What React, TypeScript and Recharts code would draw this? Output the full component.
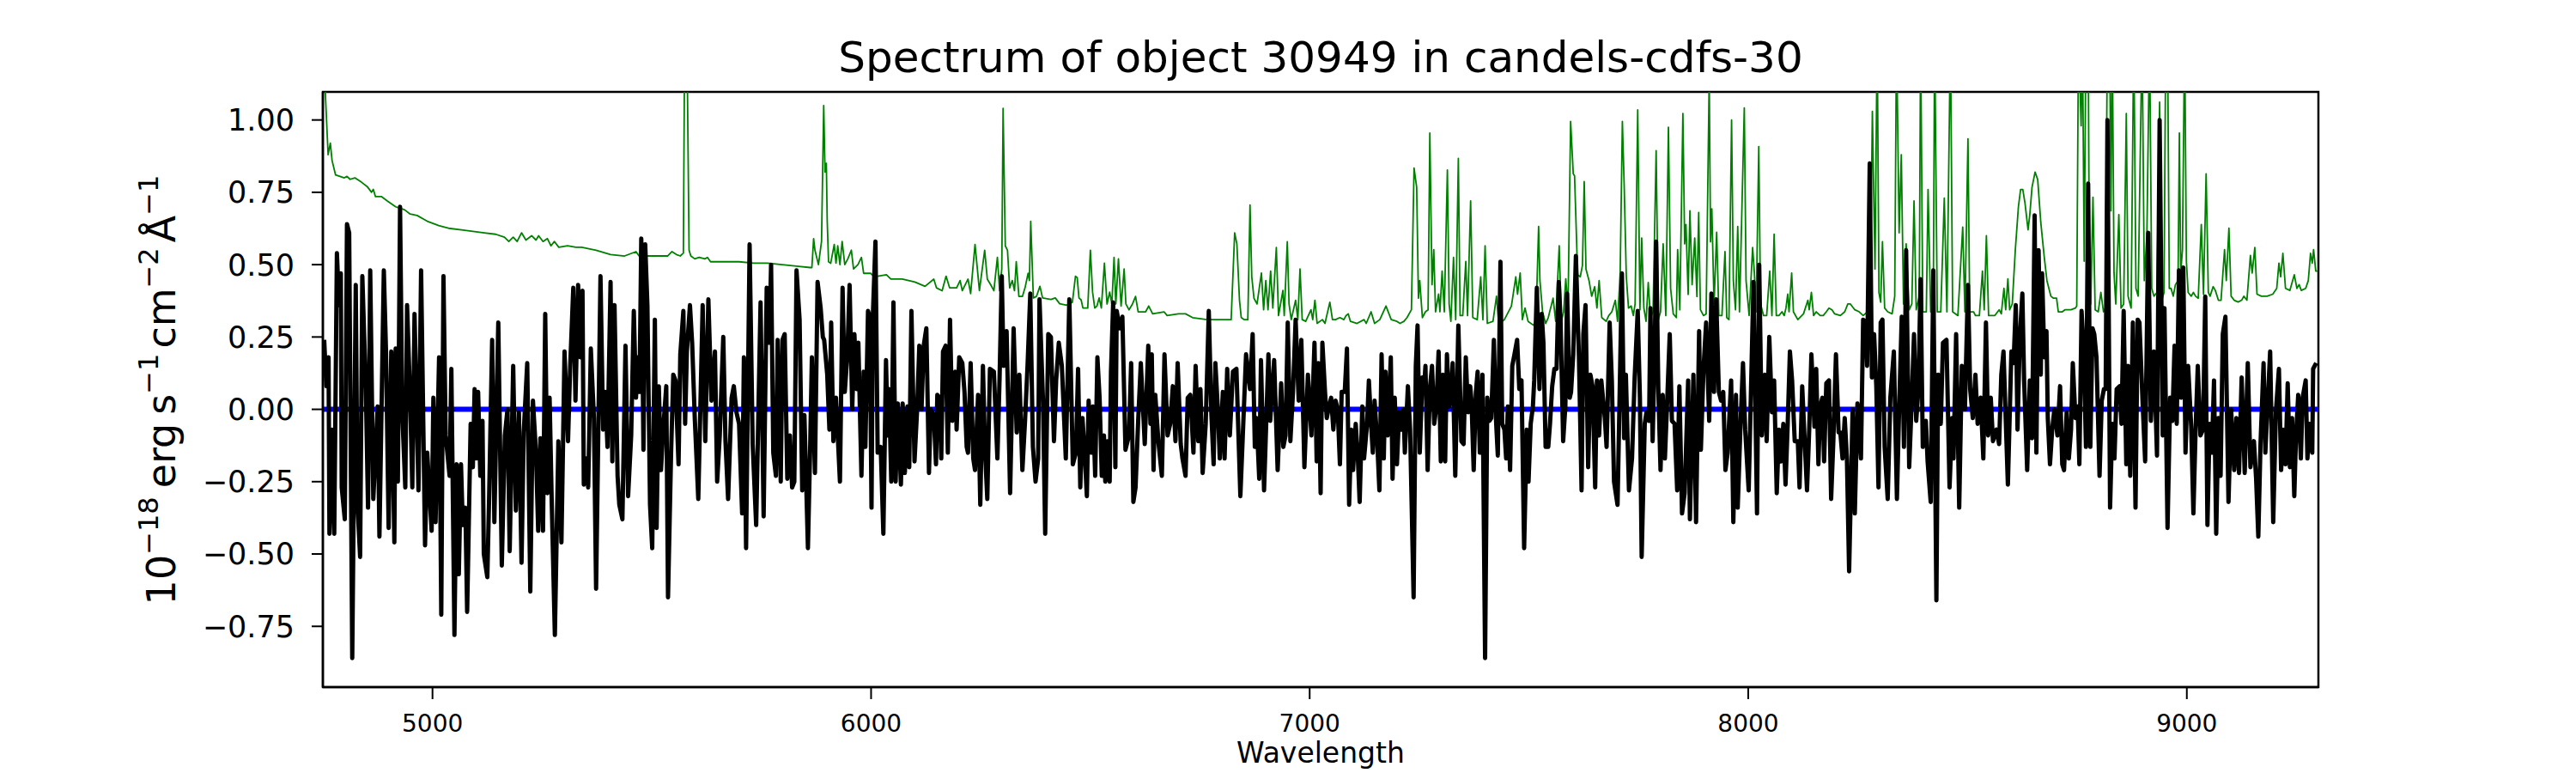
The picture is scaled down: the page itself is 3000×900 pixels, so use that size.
import React from 'react';
import { Line, LineChart, ReferenceArea, XAxis, YAxis } from 'recharts';

type Pt = [number, number];

const X_DOMAIN: [number, number] = [4750, 9300];
const Y_DOMAIN: [number, number] = [-0.96, 1.097];
const X_TICKS = [5000, 6000, 7000, 8000, 9000];
const Y_TICKS = [-0.75, -0.5, -0.25, 0, 0.25, 0.5, 0.75, 1.0];

const TITLE = 'Spectrum of object 30949 in candels-cdfs-30';
const X_LABEL = 'Wavelength';

// observed flux, [wavelength, flux], read segment by segment
const flux4750: Pt[] = [
    [4753, 0.24], [4758, 0.08], [4763, 0.18], [4765, -0.43], [4771, -0.07], [4776, -0.43], [4782, 0.54], [4787, 0.36], [4791, 0.47], [4793, -0.27],
    [4800, -0.38], [4805, 0.64], [4810, 0.61], [4817, -0.86], [4825, 0.43], [4829, -0.33], [4835, -0.51], [4840, 0.46], [4848, 0.07], [4853, -0.34],
    [4858, 0.48], [4865, -0.31], [4875, 0.01], [4879, -0.44], [4889, 0.48], [4894, 0.2], [4900, -0.41], [4906, 0.2], [4913, -0.46], [4916, 0.21],
    [4921, -0.25], [4926, 0.7], [4931, -0.01], [4938, -0.27], [4942, 0.36], [4949, 0.04], [4954, -0.27], [4959, 0.33], [4968, -0.28], [4974, 0.48],
    [4983, -0.47], [4988, -0.15], [4998, -0.42], [5002, 0.04], [5007, -0.39], [5015, 0.18], [5020, -0.71], [5025, 0.46], [5030, -0.09], [5039, -0.23],
    [5043, 0.14], [5050, -0.78], [5055, -0.19], [5060, -0.57], [5065, -0.19], [5069, -0.4], [5075, -0.34], [5079, -0.7], [5087, -0.05], [5092, -0.2],
    [5096, 0.07], [5100, -0.17], [5104, 0.06], [5109, -0.23], [5114, -0.04], [5117, -0.5], [5125, -0.58], [5129, -0.31], [5136, 0.24], [5141, -0.39],
    [5150, 0.3], [5158, -0.54], [5165, -0.09], [5171, 0], [5176, -0.49], [5184, 0.15], [5190, -0.35], [5197, -0.01], [5203, -0.53], [5208, -0.08],
    [5216, 0.16], [5223, -0.63], [5229, 0.03], [5236, -0.15], [5241, -0.42], [5246, -0.1], [5252, -0.42], [5257, 0.33], [5262, -0.29], [5267, 0.04],
    [5272, -0.33], [5279, -0.78], [5287, -0.11], [5294, -0.46], [5301, 0.2], [5309, -0.11], [5314, 0.15], [5321, 0.42], [5326, 0.03],
];
const flux5310: Pt[] = [
    [5311, -0.11], [5318, 0.42], [5322, 0.03], [5327, 0.07], [5332, 0.43], [5337, 0.18], [5342, 0.41], [5345, -0.26], [5350, -0.17], [5355, -0.27],
    [5361, 0.21], [5368, -0.03], [5373, -0.62], [5383, 0.46], [5389, -0.07], [5394, 0.06], [5399, -0.13], [5406, 0.44], [5410, -0.18], [5415, 0.36],
    [5422, -0.23], [5426, -0.33], [5433, -0.38], [5440, 0.22], [5446, -0.3], [5453, -0.09], [5459, 0.34], [5464, 0.04], [5468, 0.18], [5472, 0.06],
    [5476, 0.59], [5481, -0.14], [5485, 0.57], [5490, 0.36], [5496, -0.33], [5501, -0.48], [5507, 0.31], [5511, -0.41], [5516, 0.08], [5521, -0.21],
    [5526, -0.07], [5533, 0.08], [5537, -0.65], [5544, -0.15], [5549, 0.12], [5554, 0.1], [5561, -0.19], [5565, 0.19], [5572, 0.34], [5576, -0.05],
    [5580, 0.2], [5587, 0.36], [5592, 0.23], [5598, -0.03], [5606, -0.31], [5616, 0.36], [5622, -0.11], [5629, 0.38], [5636, 0.03], [5644, 0.2],
    [5649, -0.25], [5655, -0.09], [5663, 0.25], [5668, -0.11], [5674, -0.31], [5682, 0.04], [5687, 0.08], [5693, -0.01], [5699, -0.05], [5706, -0.36],
    [5710, 0.18], [5715, -0.48], [5723, 0.57], [5730, -0.12], [5738, -0.4], [5748, 0.37], [5755, -0.37], [5762, 0.42], [5768, 0.23], [5772, 0.5],
    [5777, -0.15], [5783, -0.23], [5787, 0.24], [5794, -0.25], [5798, 0.24], [5803, 0.26], [5809, -0.24], [5815, -0.09], [5820, -0.27], [5825, -0.25],
    [5830, 0.48], [5837, 0.31], [5843, -0.28], [5848, -0.02], [5856, -0.48], [5861, -0.14], [5865, 0.18], [5872, -0.22], [5878, 0.44], [5885, 0.35],
    [5890, 0.25],
];
const flux5875: Pt[] = [
    [5875, -0.21], [5880, 0.44], [5885, 0.36], [5888, -0.23], [5893, 0.24], [5900, 0.12], [5905, -0.07], [5909, 0.3], [5914, -0.11], [5920, 0.04],
    [5924, -0.09], [5929, -0.25], [5935, 0.42], [5940, 0.06], [5946, 0.19], [5951, 0.43], [5957, 0], [5962, 0.26], [5967, 0.07], [5971, 0.23],
    [5978, -0.23], [5983, 0.13], [5987, -0.13], [5993, 0.34], [5997, 0.32], [6001, -0.34], [6004, 0.32], [6010, 0.58], [6015, -0.15], [6022, -0.13],
    [6028, -0.43], [6034, 0.17], [6038, -0.09], [6041, 0.07], [6046, -0.25], [6051, 0.37], [6056, -0.25], [6061, 0.02], [6068, -0.26], [6072, 0.02],
    [6077, -0.22], [6083, 0.01], [6087, -0.2], [6092, 0.34], [6099, -0.18], [6105, 0], [6110, 0.22], [6115, 0], [6120, 0.22], [6126, 0.28],
    [6132, -0.22], [6136, 0], [6143, -0.02], [6148, -0.19], [6151, 0.05], [6156, 0.04], [6160, -0.17], [6164, 0.2], [6170, 0.22], [6175, -0.15],
    [6180, 0.31], [6185, -0.04], [6192, 0.13], [6195, -0.07], [6201, 0.18], [6208, 0.16], [6213, 0.06], [6218, -0.13], [6221, -0.15], [6227, 0.16],
    [6233, -0.17], [6237, -0.21], [6244, 0.05], [6249, -0.33], [6255, 0.15], [6260, -0.15], [6265, -0.31], [6271, 0.14], [6280, 0.13], [6288, -0.17],
    [6293, 0.11], [6298, 0.46], [6302, 0.15], [6309, 0.27], [6317, -0.29], [6325, 0.28], [6332, -0.08], [6338, 0.12], [6345, -0.21], [6351, -0.04],
    [6357, 0.16], [6363, 0.4], [6369, -0.13], [6375, -0.25], [6381, -0.17], [6384, 0.38], [6392, 0.03], [6397, -0.43], [6404, 0.26], [6410, 0.25],
    [6417, -0.11], [6422, 0.1], [6428, 0.23], [6435, 0.15], [6444, -0.17], [6452, 0.38], [6460, -0.19],
];
const flux6440: Pt[] = [
    [6443, -0.17], [6453, 0.38], [6457, 0.18], [6462, -0.19], [6467, -0.15], [6472, 0.14], [6477, -0.27], [6482, -0.03], [6487, -0.15], [6492, -0.3],
    [6496, 0.03], [6502, -0.15], [6506, 0.01], [6511, -0.23], [6516, 0.18], [6521, 0.04], [6526, -0.23], [6531, -0.09], [6534, -0.25], [6539, -0.11],
    [6544, -0.25], [6547, 0.13], [6552, 0.37], [6557, -0.2], [6560, 0.34], [6567, 0.28], [6573, 0.32], [6580, -0.14], [6588, -0.09], [6593, 0.16],
    [6598, -0.32], [6603, -0.27], [6609, -0.04], [6615, 0.16], [6624, -0.12], [6632, 0.22], [6637, -0.05], [6640, 0.19], [6644, -0.21], [6648, 0.05],
    [6655, -0.11], [6663, -0.23], [6669, 0.19], [6676, -0.09], [6682, -0.05], [6688, 0.08], [6694, -0.11], [6699, 0.16], [6706, -0.12], [6710, -0.17],
    [6717, -0.23], [6722, 0.04], [6728, 0.05], [6735, -0.15], [6740, 0.15], [6746, -0.11], [6751, 0.07], [6756, -0.22], [6763, -0.05], [6770, 0.34],
    [6776, -0.02], [6781, -0.19], [6785, 0.16], [6791, -0.01], [6795, -0.17], [6802, 0.06], [6806, -0.17], [6812, 0.14], [6818, -0.09], [6825, 0.13],
    [6833, 0.14], [6842, -0.3], [6851, 0.04], [6855, 0.19], [6864, 0.07], [6870, 0.26], [6875, -0.13], [6879, -0.03], [6885, -0.24], [6889, 0.17],
    [6896, -0.28], [6906, 0.19], [6910, -0.04], [6919, 0.17], [6927, -0.21], [6935, 0.09], [6940, -0.13], [6945, -0.09], [6950, 0.3], [6956, -0.11],
    [6962, 0.06], [6968, 0.31], [6975, 0.03], [6981, 0.24], [6988, -0.2], [6996, 0.12], [7004, -0.09], [7011, 0.23], [7016, -0.18], [7020, 0.16],
    [7025, -0.29], [7029, 0.23],
];
const flux7010: Pt[] = [
    [7010, 0.23], [7015, -0.18], [7020, 0.16], [7024, -0.29], [7030, 0.23], [7035, 0.06], [7039, -0.03], [7044, 0.01], [7049, 0.04], [7054, -0.07],
    [7059, 0.03], [7064, 0], [7069, -0.19], [7073, 0.06], [7080, 0.06], [7085, 0.21], [7090, -0.33], [7095, -0.07], [7099, -0.21], [7105, -0.05],
    [7110, -0.17], [7114, -0.32], [7120, 0.01], [7124, -0.17], [7131, -0.05], [7135, 0.1], [7140, -0.05], [7144, -0.15], [7148, 0.03], [7154, -0.11],
    [7159, -0.28], [7164, 0.19], [7169, -0.17], [7173, 0.13], [7178, -0.09], [7185, 0.18], [7189, -0.24], [7194, 0.04], [7199, -0.19], [7204, -0.01],
    [7209, -0.07], [7214, 0], [7217, -0.15], [7224, 0.08], [7229, -0.07], [7237, -0.65], [7242, 0.15], [7246, 0.29], [7251, -0.15], [7257, 0.11],
    [7261, 0.08], [7264, 0.15], [7269, -0.21], [7274, 0.07], [7279, 0.15], [7284, -0.05], [7289, 0.01], [7294, 0.2], [7299, -0.18], [7304, 0.12],
    [7309, -0.18], [7313, 0.19], [7318, 0.01], [7323, 0.08], [7326, 0.16], [7332, -0.23], [7339, 0.29], [7346, -0.11], [7351, -0.12], [7356, 0.18],
    [7361, -0.01], [7366, 0.08], [7369, 0.03], [7374, -0.21], [7379, 0.06], [7383, 0.13], [7388, -0.15], [7394, 0.12], [7400, -0.86], [7405, 0.04],
    [7410, -0.04], [7414, -0.03], [7420, 0.24], [7425, -0.04], [7429, -0.16], [7435, 0.51], [7439, -0.05], [7444, -0.07], [7448, -0.17], [7452, 0.01],
    [7457, -0.21], [7462, 0.15], [7467, 0.19], [7473, 0.24], [7478, 0.07], [7483, 0.1], [7489, -0.48], [7495, -0.07], [7499, -0.25], [7504, -0.05],
    [7509, 0.01], [7512, 0.1], [7518, 0.42], [7524, 0.07], [7529, 0.33], [7533, 0.23], [7538, -0.13], [7544, -0.13], [7548, -0.05], [7553, 0.08],
    [7558, 0.14], [7563, 0.14], [7568, 0.44], [7572, 0.31], [7578, -0.11], [7583, 0.01], [7587, 0.4], [7593, 0.04], [7596, 0.06],
];
const flux7580: Pt[] = [
    [7578, -0.11], [7584, 0.39], [7590, 0.04], [7594, 0.18], [7601, 0.19], [7607, 0.53], [7614, 0.18], [7620, -0.28], [7624, 0.26], [7629, 0.36],
    [7635, -0.2], [7640, 0.12], [7645, 0.08], [7651, -0.27], [7655, 0.1], [7660, -0.09], [7665, 0.1], [7673, -0.03], [7677, -0.13], [7684, 0.3],
    [7689, 0.1], [7694, -0.25], [7702, -0.33], [7707, 0.07], [7712, 0.47], [7717, -0.1], [7721, 0.12], [7728, -0.28], [7735, -0.17], [7741, 0.11],
    [7748, 0.34], [7753, 0.04], [7757, -0.51], [7764, -0.05], [7768, -0.01], [7774, -0.04], [7777, 0.35], [7782, -0.11], [7787, 0.22], [7790, 0.58],
    [7795, 0.07], [7800, -0.21], [7805, 0.05], [7810, -0.17], [7816, 0.06], [7821, 0.26], [7826, -0.04], [7832, -0.05], [7838, -0.28], [7843, 0.08],
    [7849, -0.36], [7855, -0.29], [7863, 0.1], [7867, -0.38], [7875, 0.12], [7881, -0.39], [7888, 0.27], [7892, -0.14], [7898, 0.14], [7904, 0.3],
    [7911, -0.04], [7916, 0.4], [7922, 0.06], [7927, 0.38], [7933, 0.06], [7938, 0.03], [7943, 0.06], [7948, -0.21], [7953, -0.15], [7961, 0.1],
    [7966, -0.39], [7972, 0.05], [7976, -0.34], [7982, -0.07], [7988, 0.16], [7993, -0.07], [8001, -0.28], [8008, 0.18], [8012, 0.44], [8020, -0.36],
    [8025, 0.5], [8031, -0.09], [8038, 0.12], [8042, -0.11], [8048, 0.25], [8054, -0.01], [8059, 0.1], [8065, -0.29], [8070, -0.07], [8075, -0.18],
    [8080, -0.05], [8085, -0.26], [8090, -0.05], [8095, 0.2], [8100, 0.1], [8106, -0.11], [8113, -0.11], [8117, -0.27], [8123, 0.08], [8129, -0.12],
    [8134, -0.28], [8139, -0.07], [8144, 0.19], [8151, -0.06], [8155, 0.14], [8160, -0.19], [8164, 0.01],
];
const flux8145: Pt[] = [
    [8145, 0.19], [8150, -0.06], [8155, 0.14], [8160, -0.19], [8165, -0.04], [8169, 0.04], [8173, -0.18], [8178, 0.09], [8184, 0.1], [8189, -0.31],
    [8194, -0.11], [8200, 0.19], [8206, -0.08], [8210, -0.08], [8215, -0.17], [8220, -0.03], [8225, -0.17], [8230, -0.56], [8238, 0], [8243, -0.36],
    [8249, 0.02], [8257, -0.17], [8262, 0.31], [8268, 0.3], [8271, 0.15], [8277, 0.85], [8282, 0.11], [8287, 0.26], [8292, 0.08], [8297, -0.27],
    [8302, 0.3], [8306, 0.31], [8311, -0.13], [8318, -0.31], [8324, 0.04], [8332, 0.2], [8339, -0.31], [8344, 0], [8350, 0.32], [8355, -0.13],
    [8360, 0.55], [8367, -0.2], [8372, 0], [8378, 0.26], [8383, -0.04], [8388, 0.07], [8393, 0.45], [8398, -0.13], [8405, -0.04], [8409, -0.18],
    [8416, -0.32], [8422, 0.48], [8429, -0.66], [8433, 0.12], [8439, -0.05], [8444, 0.23], [8452, 0.24], [8459, -0.27], [8465, -0.03], [8468, -0.17],
    [8474, 0.26], [8481, -0.34], [8487, 0.15], [8494, 0], [8501, 0.43], [8506, 0.07], [8512, -0.03], [8518, 0.12], [8523, -0.05], [8530, 0.04],
    [8536, -0.17], [8542, 0.3], [8547, -0.09], [8553, 0.04], [8558, -0.11], [8566, -0.07], [8572, -0.12], [8577, 0.12], [8582, 0.2], [8592, -0.26],
    [8600, 0.2], [8605, 0.16], [8610, 0.36], [8614, -0.07], [8619, 0.24], [8625, 0.4], [8629, 0.1], [8636, -0.21], [8642, 0.1], [8647, -0.1],
    [8653, 0.67], [8657, -0.15], [8662, 0.55], [8667, 0.12], [8670, 0.47], [8675, 0.18], [8680, 0.27], [8683, -0.03], [8688, -0.19], [8693, -0.07],
    [8698, 0], [8705, -0.09], [8711, 0.08], [8716, -0.19], [8720, -0.21], [8726, -0.01], [8731, -0.17],
];
const flux8715: Pt[] = [
    [8713, 0.08], [8716, -0.19], [8721, -0.21], [8725, -0.07], [8729, -0.17], [8733, 0.03], [8736, -0.07], [8740, 0.16], [8746, -0.03], [8751, 0.01],
    [8755, -0.19], [8760, 0.34], [8765, 0.2], [8770, -0.13], [8775, 0.78], [8780, -0.13], [8785, 0.28], [8789, 0.26], [8794, 0.18], [8801, -0.23],
    [8806, 0.03], [8811, 0.07], [8815, 0.07], [8819, 1.0], [8825, -0.34], [8830, -0.05], [8835, -0.17], [8840, 0.07], [8847, 0.08], [8851, -0.05],
    [8856, 0.34], [8862, -0.19], [8866, 0.15], [8871, -0.23], [8877, 0.3], [8883, -0.34], [8888, 0.31], [8892, 0.3], [8899, 0.03], [8905, -0.18],
    [8912, 0.61], [8918, -0.04], [8925, 0.2], [8932, -0.16], [8938, 1.0], [8945, -0.09], [8949, 0.35], [8956, -0.41], [8962, 0.04], [8967, -0.04],
    [8972, 0.22], [8977, -0.05], [8982, 0.48], [8987, 0.04], [8992, 0.49], [8997, -0.15], [9003, 0.15], [9010, -0.06], [9015, -0.36], [9020, -0.07],
    [9025, 0.15], [9031, -0.09], [9037, -0.07], [9042, 0.39], [9047, -0.4], [9052, -0.05], [9057, -0.15], [9062, 0.1], [9067, -0.43], [9072, -0.03],
    [9077, -0.23], [9082, 0.26], [9088, 0.32], [9095, -0.32], [9101, 0], [9108, -0.21], [9113, -0.03], [9119, -0.22], [9125, 0.11], [9132, -0.22],
    [9139, 0.16], [9145, -0.2], [9153, -0.11], [9158, -0.24], [9163, -0.44], [9168, -0.12], [9175, 0.16], [9179, -0.15], [9184, 0.01], [9190, 0.2],
    [9197, -0.39], [9203, -0.01], [9210, 0.14], [9215, -0.21], [9220, -0.07], [9225, -0.19], [9230, 0.09], [9235, -0.2], [9240, -0.03], [9245, -0.3],
    [9249, -0.09], [9254, 0.05], [9260, -0.17], [9264, 0.04], [9271, 0.1], [9275, -0.17], [9280, -0.05], [9286, -0.15], [9288, 0.14], [9295, 0.16],
];

// model / sky curve (green), same layout; peaks above 1.1 run out of the frame
const model4750: Pt[] = [
    [4751, 1.3], [4756, 1.08], [4762, 0.88], [4767, 0.92], [4771, 0.86], [4779, 0.81], [4799, 0.8], [4805, 0.805], [4812, 0.795], [4823, 0.8],
    [4838, 0.785], [4851, 0.77], [4861, 0.75], [4865, 0.76], [4870, 0.735], [4884, 0.735], [4897, 0.72], [4916, 0.7], [4936, 0.69], [4949, 0.675],
    [4965, 0.67], [4988, 0.65], [5014, 0.635], [5040, 0.625], [5066, 0.62], [5092, 0.615], [5118, 0.61], [5144, 0.605], [5164, 0.595], [5174, 0.58],
    [5184, 0.595], [5193, 0.58], [5203, 0.61], [5213, 0.585], [5226, 0.6], [5236, 0.585], [5242, 0.6], [5252, 0.58], [5262, 0.59], [5270, 0.565],
    [5278, 0.58], [5288, 0.56], [5308, 0.565], [5327, 0.56],
];
const model5310: Pt[] = [
    [5340, 0.56], [5373, 0.55], [5406, 0.535], [5438, 0.53], [5464, 0.545], [5471, 0.53], [5503, 0.53], [5536, 0.53], [5546, 0.545], [5556, 0.535],
    [5565, 0.53], [5572, 0.54], [5575, 1.3], [5580, 1.3], [5585, 0.55], [5589, 0.53], [5598, 0.52], [5608, 0.525], [5621, 0.52], [5627, 0.525],
    [5634, 0.51], [5666, 0.51], [5699, 0.51], [5732, 0.505], [5764, 0.505], [5797, 0.5], [5830, 0.495], [5861, 0.49], [5865, 0.49], [5869, 0.59],
    [5872, 0.55], [5880, 0.5],
];
const model5875: Pt[] = [
    [5887, 0.58], [5892, 1.05], [5895, 0.82], [5898, 0.85], [5900, 0.65], [5903, 0.51], [5908, 0.505], [5916, 0.57], [5920, 0.505], [5924, 0.565],
    [5929, 0.5], [5934, 0.58], [5940, 0.5], [5947, 0.52], [5955, 0.55], [5960, 0.485], [5970, 0.5], [5978, 0.525], [5983, 0.47], [5999, 0.47],
    [6006, 0.46], [6015, 0.46], [6035, 0.465], [6045, 0.45], [6071, 0.45], [6100, 0.44], [6123, 0.425], [6143, 0.45], [6149, 0.42], [6162, 0.41],
    [6171, 0.46], [6179, 0.42], [6195, 0.42], [6203, 0.445], [6208, 0.41], [6221, 0.45], [6227, 0.4], [6237, 0.57], [6247, 0.41], [6259, 0.55],
    [6265, 0.45], [6273, 0.43], [6280, 0.41], [6288, 0.525], [6293, 0.41], [6298, 0.485], [6301, 1.04], [6306, 0.565], [6311, 0.55], [6316, 0.42],
    [6322, 0.445], [6327, 0.41], [6331, 0.51], [6337, 0.39], [6345, 0.39], [6351, 0.42], [6358, 0.47], [6361, 0.445], [6364, 0.65], [6370, 0.385],
    [6377, 0.39], [6385, 0.425], [6391, 0.385], [6410, 0.38], [6420, 0.385], [6430, 0.365], [6446, 0.36], [6459, 0.37],
];
const model6440: Pt[] = [
    [6466, 0.46], [6470, 0.455], [6474, 0.385], [6479, 0.378], [6483, 0.35], [6494, 0.35], [6500, 0.55], [6505, 0.405], [6510, 0.35], [6515, 0.357],
    [6520, 0.385], [6525, 0.35], [6532, 0.505], [6538, 0.364], [6544, 0.405], [6549, 0.364], [6554, 0.525], [6558, 0.364], [6564, 0.52], [6570, 0.357],
    [6577, 0.485], [6581, 0.364], [6588, 0.344], [6596, 0.364], [6603, 0.39], [6609, 0.337], [6626, 0.337], [6633, 0.357], [6642, 0.33], [6668, 0.337],
    [6675, 0.324], [6701, 0.33], [6717, 0.33], [6733, 0.317], [6766, 0.31], [6789, 0.31], [6821, 0.31], [6829, 0.61], [6834, 0.572], [6840, 0.377],
    [6844, 0.317], [6851, 0.31], [6859, 0.31], [6864, 0.706], [6868, 0.458], [6873, 0.384], [6880, 0.364], [6890, 0.471], [6895, 0.344], [6900, 0.445],
    [6905, 0.344], [6911, 0.478], [6916, 0.35], [6924, 0.559], [6929, 0.324], [6939, 0.411], [6942, 0.324], [6949, 0.579], [6953, 0.364], [6958, 0.31],
    [6968, 0.377], [6973, 0.31], [6978, 0.485], [6983, 0.31], [6991, 0.304], [7003, 0.344], [7007, 0.31], [7012, 0.377], [7017, 0.297], [7029, 0.31],
];
const model7010: Pt[] = [
    [7035, 0.297], [7039, 0.324], [7046, 0.37], [7052, 0.31], [7059, 0.31], [7069, 0.317], [7078, 0.31], [7083, 0.324], [7088, 0.33], [7093, 0.304],
    [7108, 0.297], [7124, 0.31], [7129, 0.297], [7140, 0.337], [7148, 0.297], [7160, 0.31], [7174, 0.357], [7186, 0.31], [7199, 0.304], [7206, 0.297],
    [7215, 0.304], [7222, 0.317], [7232, 0.344], [7238, 0.834], [7244, 0.767], [7248, 0.384], [7251, 0.445], [7257, 0.317], [7264, 0.337], [7270, 0.344],
    [7274, 0.955], [7279, 0.431], [7283, 0.552], [7287, 0.337], [7294, 0.398], [7297, 0.337], [7302, 0.478], [7307, 0.337], [7314, 0.827], [7318, 0.364],
    [7322, 0.304], [7328, 0.525], [7333, 0.31], [7339, 0.867], [7343, 0.324], [7349, 0.324], [7356, 0.511], [7360, 0.324], [7367, 0.72], [7372, 0.317],
    [7382, 0.31], [7390, 0.458], [7395, 0.31], [7400, 0.565], [7405, 0.297], [7418, 0.304], [7426, 0.391], [7431, 0.297], [7444, 0.31], [7460, 0.357],
    [7470, 0.458], [7474, 0.398], [7480, 0.471], [7485, 0.31], [7491, 0.35], [7498, 0.304], [7511, 0.29], [7516, 0.31], [7522, 0.632], [7525, 0.445],
    [7531, 0.337], [7538, 0.297], [7544, 0.317], [7555, 0.384], [7561, 0.304], [7569, 0.565], [7574, 0.304], [7579, 0.337], [7584, 0.451], [7589, 0.344],
    [7595, 0.995],
];
const model7580: Pt[] = [
    [7601, 0.814], [7604, 0.807], [7611, 0.465], [7617, 0.458], [7622, 0.498], [7626, 0.787], [7630, 0.485], [7637, 0.445], [7643, 0.391], [7650, 0.424],
    [7655, 0.35], [7660, 0.445], [7666, 0.317], [7676, 0.304], [7682, 0.324], [7689, 0.337], [7697, 0.377], [7702, 0.304], [7708, 0.471], [7713, 0.995],
    [7717, 0.78], [7722, 0.458], [7727, 0.35], [7733, 0.357], [7738, 0.324], [7742, 0.364], [7748, 1.035], [7753, 0.344], [7757, 0.592], [7762, 0.35],
    [7767, 0.304], [7772, 0.438], [7777, 0.317], [7783, 0.337], [7790, 0.894], [7795, 0.31], [7800, 0.337], [7806, 0.572], [7812, 0.324], [7818, 0.975],
    [7823, 0.418], [7829, 0.33], [7836, 0.317], [7839, 0.552], [7844, 0.344], [7851, 1.022], [7855, 0.572], [7858, 0.639], [7863, 0.397], [7867, 0.686],
    [7872, 0.431], [7878, 0.592], [7883, 0.39], [7887, 0.68], [7891, 0.344], [7898, 0.324], [7904, 0.33], [7911, 1.15], [7914, 0.579], [7917, 0.693],
    [7922, 0.364], [7928, 0.612], [7933, 0.324], [7940, 0.324], [7947, 0.545], [7951, 0.317], [7956, 0.31], [7962, 1.0], [7966, 0.445], [7971, 0.344],
    [7976, 0.632], [7980, 0.337], [7991, 1.042], [7995, 0.445], [8002, 0.324], [8010, 0.559], [8014, 0.471], [8018, 0.337], [8024, 0.908], [8028, 0.364],
    [8035, 0.324], [8042, 0.324], [8049, 0.478], [8054, 0.324], [8059, 0.605], [8064, 0.324], [8070, 0.324], [8077, 0.337], [8082, 0.324], [8086, 0.35],
    [8090, 0.398], [8093, 0.337], [8099, 0.471], [8103, 0.337], [8113, 0.31], [8126, 0.33], [8136, 0.377], [8139, 0.344], [8144, 0.404], [8149, 0.324],
    [8155, 0.337], [8164, 0.324],
];
const model8145: Pt[] = [
    [8171, 0.324], [8178, 0.337], [8184, 0.35], [8191, 0.344], [8197, 0.33], [8210, 0.324], [8220, 0.337], [8227, 0.364], [8233, 0.364], [8243, 0.344],
    [8253, 0.337], [8262, 0.324], [8272, 0.337], [8279, 0.498], [8283, 1.03], [8289, 0.485], [8294, 1.3], [8298, 0.404], [8302, 0.37], [8306, 0.579],
    [8311, 0.35], [8318, 0.337], [8328, 0.33], [8334, 0.391], [8338, 1.3], [8344, 0.61], [8349, 0.88], [8354, 0.364], [8360, 0.572], [8367, 0.344],
    [8373, 0.364], [8378, 0.72], [8383, 0.344], [8390, 0.391], [8393, 1.3], [8398, 0.337], [8406, 0.337], [8410, 0.76], [8416, 0.337], [8422, 0.391],
    [8425, 1.3], [8431, 0.337], [8439, 0.337], [8447, 0.73], [8453, 0.337], [8461, 1.3], [8466, 0.337], [8478, 0.324], [8489, 0.63], [8494, 0.337],
    [8501, 0.935], [8505, 0.337], [8514, 0.337], [8518, 0.324], [8527, 0.324], [8534, 0.478], [8538, 0.344], [8543, 0.6], [8548, 0.324], [8562, 0.324],
    [8572, 0.344], [8577, 0.33], [8583, 0.418], [8587, 0.344], [8592, 0.451], [8596, 0.344], [8602, 0.364], [8609, 0.552], [8616, 0.7], [8621, 0.76],
    [8626, 0.76], [8631, 0.713], [8638, 0.62], [8642, 0.673], [8647, 0.767], [8654, 0.82], [8660, 0.794], [8667, 0.646], [8675, 0.525], [8681, 0.445],
    [8690, 0.391], [8696, 0.384], [8703, 0.384], [8707, 0.337], [8716, 0.337], [8722, 0.344], [8731, 0.344],
];
const model8715: Pt[] = [
    [8736, 0.344], [8746, 0.35], [8749, 0.357], [8753, 1.3], [8759, 0.98], [8762, 1.3], [8766, 0.512], [8770, 1.3], [8775, 1.3], [8778, 0.445],
    [8781, 0.364], [8786, 0.733], [8791, 0.344], [8798, 0.337], [8804, 0.404], [8810, 0.337], [8814, 0.35], [8819, 1.3], [8824, 1.3], [8827, 0.686],
    [8830, 1.3], [8834, 0.471], [8838, 0.364], [8845, 0.673], [8850, 0.35], [8856, 0.364], [8862, 1.022], [8866, 0.391], [8873, 0.35], [8879, 1.3],
    [8884, 0.418], [8889, 0.391], [8898, 1.3], [8903, 0.445], [8909, 0.606], [8915, 1.3], [8920, 0.418], [8925, 0.391], [8932, 0.404], [8938, 1.062],
    [8943, 0.377], [8948, 0.404], [8952, 1.3], [8956, 1.3], [8960, 0.418], [8964, 0.418], [8969, 0.391], [8974, 0.431], [8980, 0.445], [8983, 0.955],
    [8986, 0.471], [8990, 0.552], [8995, 1.3], [8999, 0.512], [9003, 0.404], [9010, 0.391], [9015, 0.404], [9020, 0.391], [9026, 0.384], [9033, 0.639],
    [9038, 0.398], [9044, 0.814], [9049, 0.404], [9053, 0.391], [9060, 0.424], [9065, 0.411], [9072, 0.377], [9078, 0.377], [9086, 0.552], [9090, 0.445],
    [9096, 0.626], [9101, 0.391], [9108, 0.377], [9117, 0.371], [9125, 0.377], [9130, 0.391], [9137, 0.377], [9145, 0.532], [9149, 0.471], [9155, 0.559],
    [9160, 0.398], [9170, 0.391], [9183, 0.391], [9196, 0.398], [9205, 0.418], [9210, 0.505], [9214, 0.458], [9219, 0.539], [9225, 0.418], [9235, 0.411],
    [9245, 0.465], [9251, 0.418], [9256, 0.431], [9261, 0.411], [9271, 0.418], [9277, 0.445], [9282, 0.539], [9286, 0.505], [9289, 0.552], [9294, 0.478],
    [9299, 0.478],
];

const zeroLine: Pt[] = [[4750, 0], [9300, 0]];

// segments overlap a little at their ends; keep the earlier reading there
const joinSegments = (segments: Pt[][]) => {
    const out: { w: number; v: number }[] = [];
    segments.forEach((seg) => {
        const last = out.length ? out[out.length - 1].w : -Infinity;
        seg.forEach(([w, v]) => {
            if (w > last + 2) out.push({ w, v });
        });
    });
    return out;
};

const fluxData = joinSegments([flux4750, flux5310, flux5875, flux6440, flux7010, flux7580, flux8145, flux8715]);
const modelData = joinSegments([model4750, model5310, model5875, model6440, model7010, model7580, model8145, model8715]);
const zeroData = joinSegments([zeroLine]);

const FONT = '"DejaVu Sans", sans-serif';
const CHART_MARGIN = { top: 107, right: 300, left: 0, bottom: 0 };
const SPINE = { stroke: '#000', strokeWidth: 2.5 };
const TICK_LINE = { stroke: '#000', strokeWidth: 2 };
const X_TICK_STYLE = { fill: '#000', fontSize: 28, fontFamily: FONT };
const Y_TICK_STYLE = { fill: '#000', fontSize: 35, fontFamily: FONT };

const formatY = (v: number) => (v < 0 ? '\u2212' : '') + Math.abs(v).toFixed(2);

export default function App() {
    return (
        <div style={{ position: 'absolute', left: 0, top: 0, width: 3000, height: 900, background: '#fff' }}>
            <LineChart width={3000} height={900} data={fluxData} margin={CHART_MARGIN}>
                <XAxis
                    allowDataOverflow
                    axisLine={SPINE}
                    dataKey="w"
                    domain={X_DOMAIN}
                    height={100}
                    tick={X_TICK_STYLE}
                    tickLine={TICK_LINE}
                    tickMargin={18}
                    tickSize={14}
                    ticks={X_TICKS}
                    type="number"
                />
                <YAxis
                    allowDataOverflow
                    axisLine={SPINE}
                    domain={Y_DOMAIN}
                    tick={Y_TICK_STYLE}
                    tickFormatter={formatY}
                    tickLine={TICK_LINE}
                    tickMargin={20}
                    tickSize={13}
                    ticks={Y_TICKS}
                    type="number"
                    width={376}
                />
                {/* the frame round the plot: matplotlib draws all four spines */}
                <ReferenceArea
                    fill="none"
                    ifOverflow="visible"
                    stroke="#000"
                    strokeWidth={2.5}
                    x1={X_DOMAIN[0]}
                    x2={X_DOMAIN[1]}
                    y1={Y_DOMAIN[0]}
                    y2={Y_DOMAIN[1]}
                />
                <Line
                    activeDot={false}
                    data={modelData}
                    dataKey="v"
                    dot={false}
                    isAnimationActive={false}
                    stroke="#008000"
                    strokeLinejoin="round"
                    strokeWidth={1.8}
                    type="linear"
                />
                <Line
                    activeDot={false}
                    data={zeroData}
                    dataKey="v"
                    dot={false}
                    isAnimationActive={false}
                    stroke="#0000ff"
                    strokeWidth={6}
                    type="linear"
                />
                <Line
                    activeDot={false}
                    data={fluxData}
                    dataKey="v"
                    dot={false}
                    isAnimationActive={false}
                    stroke="#000"
                    strokeLinejoin="round"
                    strokeWidth={5}
                    type="linear"
                />
            </LineChart>
            <svg
                height={900}
                style={{ position: 'absolute', left: 0, top: 0, pointerEvents: 'none' }}
                width={3000}
            >
                <text fill="#000" fontFamily={FONT} fontSize={50} textAnchor="middle" x={1538} y={84}>
                    {TITLE}
                </text>
                <text fill="#000" fontFamily={FONT} fontSize={33} textAnchor="middle" x={1538} y={888}>
                    {X_LABEL}
                </text>
                <text
                    fill="#000"
                    fontFamily={FONT}
                    fontSize={46}
                    textAnchor="middle"
                    transform="translate(204, 454) rotate(-90)"
                >
                    <tspan>10</tspan>
                    <tspan dy={-20} fontSize={32}>{'\u221218'}</tspan>
                    <tspan dx={10} dy={20}>erg</tspan>
                    <tspan dx={10}>s</tspan>
                    <tspan dy={-20} fontSize={32}>{'\u22121'}</tspan>
                    <tspan dx={6} dy={20}>cm</tspan>
                    <tspan dy={-20} fontSize={32}>{'\u22122'}</tspan>
                    <tspan dx={6} dy={20}>{'\u00c5'}</tspan>
                    <tspan dy={-20} fontSize={32}>{'\u22121'}</tspan>
                </text>
            </svg>
        </div>
    );
}
